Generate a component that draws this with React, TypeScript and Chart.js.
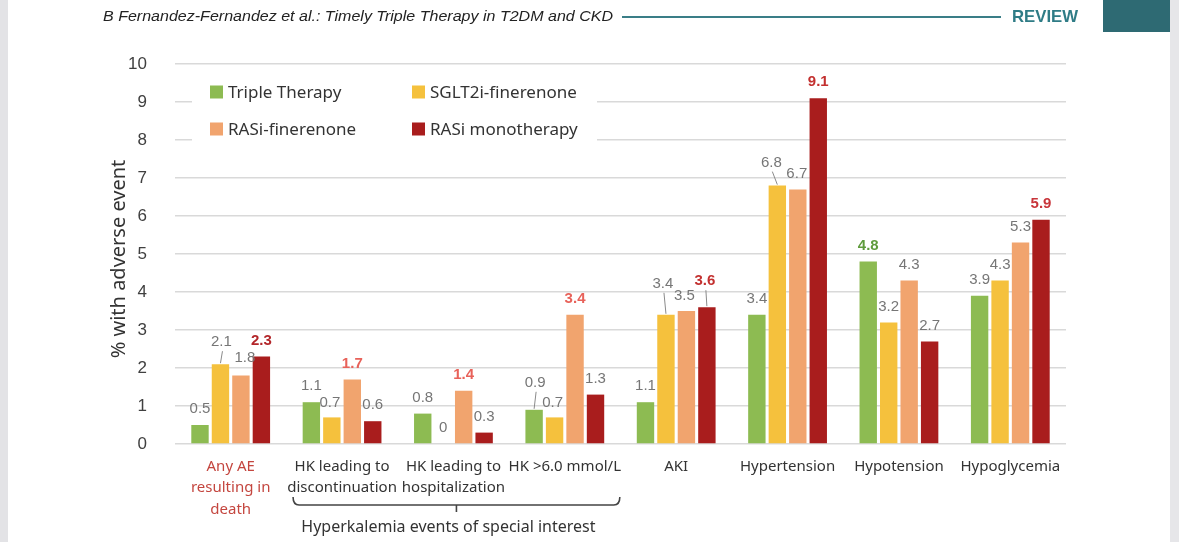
import React, { useEffect, useRef } from 'react';
import { Chart, registerables } from 'chart.js';

Chart.register(...registerables);

// ---------------- data ----------------
const categories: string[][] = [
  ['Any AE', 'resulting in', 'death'],
  ['HK leading to', 'discontinuation'],
  ['HK leading to', 'hospitalization'],
  ['HK >6.0 mmol/L'],
  ['AKI'],
  ['Hypertension'],
  ['Hypotension'],
  ['Hypoglycemia'],
];
const seriesNames = ['Triple Therapy', 'SGLT2i-finerenone', 'RASi-finerenone', 'RASi monotherapy'];
const tripleTherapy = [0.5, 1.1, 0.8, 0.9, 1.1, 3.4, 4.8, 3.9];
const sglt2iFinerenone = [2.1, 0.7, 0, 0.7, 3.4, 6.8, 3.2, 4.3];
const rasiFinerenone = [1.8, 1.7, 1.4, 3.4, 3.5, 6.7, 4.3, 5.3];
const rasiMonotherapy = [2.3, 0.6, 0.3, 1.3, 3.6, 9.1, 2.7, 5.9];
const yMin = 0;
const yMax = 10;
const yStep = 1;
const headerText = 'B Fernandez-Fernandez et al.: Timely Triple Therapy in T2DM and CKD';
const sectionText = 'REVIEW';
const yTitle = '% with adverse event';
const bracketText = 'Hyperkalemia events of special interest';
const bracketFrom = 1;
const bracketTo = 3;

// ---------------- styles ----------------
const seriesColors = ['#8dbb52', '#f5c13d', '#f1a46e', '#a91d1d'];
const labelGray = '#767676';
const highlightLabels: { ds: number; cat: number; color: string }[] = [
  { ds: 3, cat: 0, color: '#b3262a' },
  { ds: 2, cat: 1, color: '#e8625a' },
  { ds: 2, cat: 2, color: '#e8625a' },
  { ds: 2, cat: 3, color: '#e8625a' },
  { ds: 3, cat: 4, color: '#c3302f' },
  { ds: 3, cat: 5, color: '#c3302f' },
  { ds: 0, cat: 6, color: '#5e9b3c' },
  { ds: 3, cat: 7, color: '#c8353a' },
];
const labelNudges: { ds: number; cat: number; dx: number; lift: number; leader?: boolean }[] = [
  { ds: 1, cat: 0, dx: 1, lift: 22, leader: true },
  { ds: 2, cat: 0, dx: 4, lift: 18 },
  { ds: 1, cat: 1, dx: -2, lift: 15 },
  { ds: 0, cat: 3, dx: 1, lift: 27, leader: true },
  { ds: 1, cat: 3, dx: -2, lift: 15 },
  { ds: 1, cat: 4, dx: -3, lift: 31, leader: true },
  { ds: 2, cat: 4, dx: -2, lift: 15 },
  { ds: 3, cat: 4, dx: -2, lift: 26, leader: true },
  { ds: 1, cat: 5, dx: -6, lift: 23, leader: true },
  { ds: 2, cat: 5, dx: -1, lift: 16 },
];

const fmt = (v: number) => (v === 0 ? '0' : v.toFixed(1));

const overlayPlugin = {
  id: 'overlay',
  beforeDraw(chart: any) {
    const ctx = chart.ctx;
    ctx.save();
    ctx.font = 'italic 15px "Liberation Sans", Arial, sans-serif';
    ctx.textBaseline = 'middle';
    ctx.textAlign = 'left';
    ctx.fillStyle = '#222';
    const w = ctx.measureText(headerText).width;
    ctx.save();
    ctx.translate(103, 17);
    ctx.scale(510 / w, 1);
    ctx.fillText(headerText, 0, 0);
    ctx.restore();
    ctx.strokeStyle = '#3a7e87';
    ctx.lineWidth = 2;
    ctx.beginPath();
    ctx.moveTo(622, 17);
    ctx.lineTo(1001, 17);
    ctx.stroke();
    ctx.font = 'bold 17px "Liberation Sans", Arial, sans-serif';
    ctx.fillStyle = '#2f7c86';
    const rw = ctx.measureText(sectionText).width;
    ctx.save();
    ctx.translate(1012, 17);
    ctx.scale(66 / rw, 1);
    ctx.fillText(sectionText, 0, 0);
    ctx.restore();
    ctx.fillStyle = '#2e6a73';
    ctx.fillRect(1103, 0, 67, 32);
    ctx.save();
    ctx.translate(119, 259);
    ctx.rotate(-Math.PI / 2);
    ctx.font = '20px "Noto Sans", sans-serif';
    ctx.fillStyle = '#333';
    ctx.textAlign = 'center';
    ctx.textBaseline = 'middle';
    ctx.fillText(yTitle, 0, 0);
    ctx.restore();
    ctx.restore();
  },
  afterDatasetsDraw(chart: any) {
    const ctx = chart.ctx;
    ctx.save();
    chart.data.datasets.forEach((ds: any, di: number) => {
      const meta = chart.getDatasetMeta(di);
      meta.data.forEach((bar: any, ci: number) => {
        const v = ds.data[ci];
        const nudge = labelNudges.find((n) => n.ds === di && n.cat === ci);
        const hl = highlightLabels.find((h) => h.ds === di && h.cat === ci);
        const dx = nudge ? nudge.dx : 0;
        const lift = nudge ? nudge.lift : 16;
        const lx = bar.x + dx;
        const ly = bar.y - lift;
        ctx.font = (hl ? 'bold ' : '') + '15px "Liberation Sans", Arial, sans-serif';
        ctx.fillStyle = hl ? hl.color : labelGray;
        ctx.textAlign = 'center';
        ctx.textBaseline = 'middle';
        ctx.fillText(fmt(v), lx, ly);
        if (nudge && nudge.leader) {
          ctx.strokeStyle = '#8a8a8a';
          ctx.lineWidth = 1;
          ctx.beginPath();
          ctx.moveTo(lx + 1, ly + 9);
          ctx.lineTo(bar.x, bar.y - 1);
          ctx.stroke();
        }
      });
    });
    ctx.fillStyle = '#ffffff';
    ctx.fillRect(192, 72, 405, 78);
    const cols = [210, 412];
    const rows = [92, 129];
    chart.data.datasets.forEach((ds: any, i: number) => {
      const x = cols[i % 2];
      const y = rows[Math.floor(i / 2)];
      ctx.fillStyle = ds.backgroundColor;
      ctx.fillRect(x, y - 6.5, 13, 13);
      ctx.fillStyle = '#333';
      ctx.font = '17px "Noto Sans", sans-serif';
      ctx.textAlign = 'left';
      ctx.textBaseline = 'middle';
      ctx.fillText(ds.label, x + 18, y + 1);
    });
    const xs = chart.scales.x;
    const left = xs.getPixelForValue(bracketFrom) - 49;
    const right = xs.getPixelForValue(bracketTo) + 55;
    const mid = (left + right) / 2;
    ctx.strokeStyle = '#444';
    ctx.lineWidth = 1.6;
    ctx.beginPath();
    ctx.moveTo(left, 497);
    ctx.quadraticCurveTo(left, 505, left + 6, 505);
    ctx.lineTo(right - 6, 505);
    ctx.quadraticCurveTo(right, 505, right, 497);
    ctx.moveTo(mid, 505);
    ctx.lineTo(mid, 512);
    ctx.stroke();
    ctx.fillStyle = '#333';
    ctx.font = '16px "Noto Sans", sans-serif';
    ctx.textAlign = 'center';
    ctx.textBaseline = 'middle';
    ctx.fillText(bracketText, mid - 8, 527);
    ctx.restore();
  },
};

export default function App() {
  const ref = useRef<HTMLCanvasElement | null>(null);
  useEffect(() => {
    if (!ref.current) return;
    const series = [tripleTherapy, sglt2iFinerenone, rasiFinerenone, rasiMonotherapy];
    const chart = new Chart(ref.current, {
      type: 'bar',
      data: {
        labels: categories as any,
        datasets: series.map((d, i) => ({
          label: seriesNames[i],
          data: d,
          backgroundColor: seriesColors[i],
          borderWidth: 0,
          categoryPercentage: 0.735,
          barPercentage: 0.85,
        })),
      },
      options: {
        responsive: false,
        animation: false,
        devicePixelRatio: 1,
        layout: { padding: { left: 0, right: 113, top: 64, bottom: 0 } },
        plugins: { legend: { display: false }, tooltip: { enabled: false } },
        scales: {
          x: {
            grid: { display: false },
            border: { display: false },
            afterFit: (s: any) => {
              s.height = 98;
            },
            ticks: {
              autoSkip: false,
              maxRotation: 0,
              minRotation: 0,
              padding: 4,
              font: { family: '"Noto Sans", sans-serif', size: 15, lineHeight: 1.43 },
              color: (c: any) => (c.index === 0 ? '#c4463f' : '#333'),
            },
          },
          y: {
            min: yMin,
            max: yMax,
            afterFit: (s: any) => {
              s.width = 175;
            },
            border: { display: false },
            grid: { color: '#d9d9d9', lineWidth: 1.5, drawTicks: false },
            ticks: {
              stepSize: yStep,
              padding: 28,
              font: { family: '"Liberation Sans", Arial, sans-serif', size: 17 },
              color: '#404040',
            },
          },
        },
      },
      plugins: [overlayPlugin],
    });
    return () => chart.destroy();
  }, []);
  return (
    <div
      style={{
        position: 'fixed',
        left: 0,
        top: 0,
        width: 1179,
        height: 542,
        background:
          'linear-gradient(to right, #e3e3e6 0px, #e3e3e6 8px, #ffffff 8px, #ffffff 1170px, #e6e6e9 1170px, #e6e6e9 1179px)',
      }}
    >
      <canvas ref={ref} width={1179} height={542} style={{ display: 'block', width: 1179, height: 542 }} />
    </div>
  );
}
